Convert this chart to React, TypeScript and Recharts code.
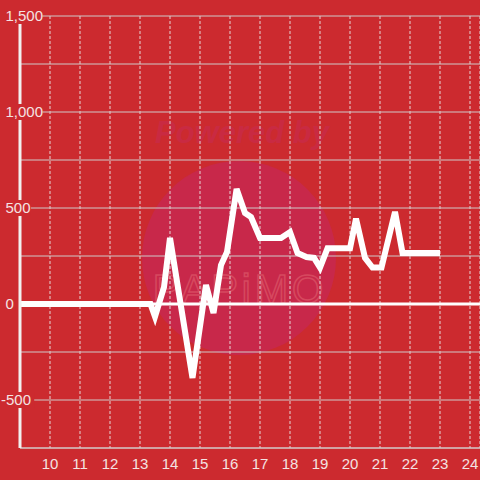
import React from 'react';
import {
  LineChart,
  Line,
  XAxis,
  YAxis,
  CartesianGrid,
  ReferenceLine,
} from 'recharts';

const hours = [
  9, 13.35, 13.5, 13.8, 14.0, 14.75, 15.2, 15.45, 15.7, 15.9, 16.22, 16.5,
  16.7, 17.0, 17.7, 18.0, 18.25, 18.55, 18.8, 19.0, 19.25, 20.0, 20.2, 20.5,
  20.75, 21.05, 21.5, 21.75, 23.0,
];
const values = [
  0, 0, -66, 88, 344, -385, 99, -47, 203, 271, 599, 474, 453, 344, 344, 375,
  265, 245, 240, 190, 290, 290, 445, 240, 190, 190, 480, 265, 265,
];
const xTicks = [10, 11, 12, 13, 14, 15, 16, 17, 18, 19, 20, 21, 22, 23, 24];
const yTicks = [-750, -500, -250, 0, 250, 500, 750, 1000, 1250, 1500];

const data = hours.map((h, i) => ({ hour: h, value: values[i] }));

const BG = '#cc2a2f';
const FONT = '"Liberation Sans", Arial, sans-serif';

const YTick = (props: any) => {
  const { y, payload } = props;
  const v = payload.value;
  if (v % 500 !== 0 || v === -750) return null;
  const label = v.toLocaleString('en-US');
  const neg = v < 0;
  const tx = neg ? 1 : 5.5;
  const w = label.length * 7.8 - (label.includes(',') ? 4 : 0);
  return (
    <g>
      <rect x={tx - 1} y={y - 8} width={w + 3} height={16} fill={BG} />
      <text
        x={tx}
        y={y}
        dy={5}
        textAnchor="start"
        fill="#f4e2e2"
        fontSize={15}
        fontFamily={FONT}
      >
        {label}
      </text>
    </g>
  );
};

const App = () => {
  return (
    <div
      style={{
        position: 'fixed',
        left: 0,
        top: 0,
        width: 480,
        height: 480,
        background: BG,
      }}
    >
      {/* watermark behind the chart */}
      <svg
        width={480}
        height={480}
        style={{ position: 'absolute', left: 0, top: 0 }}
      >
        <circle cx={239} cy={258} r={97} fill="#c8284a" />
        <text
          x={242}
          y={143}
          textAnchor="middle"
          fontSize={31}
          fontWeight="bold"
          fontStyle="italic"
          fontFamily={FONT}
          fill="#c92a42"
        >
          Powered by
        </text>
        <text
          x={240}
          y={303}
          textAnchor="middle"
          fontSize={40}
          fontFamily={FONT}
          letterSpacing={4}
          fill="none"
          stroke="#d6485f"
          strokeWidth={1.5}
        >
          PAPiMO
        </text>
      </svg>
      <div style={{ position: 'absolute', left: 0, top: 0 }}>
        <LineChart
          width={480}
          height={480}
          data={data}
          margin={{ top: 16, right: 0, bottom: 0, left: 0 }}
        >
          <CartesianGrid
            horizontal={false}
            stroke="#e4d6d6"
            strokeDasharray="3 2"
          />
          <CartesianGrid vertical={false} stroke="#cfc9c9" />
          <XAxis
            dataKey="hour"
            type="number"
            domain={[9, 24.333]}
            ticks={xTicks}
            allowDataOverflow
            height={32}
            axisLine={{ stroke: '#d4cccc', strokeWidth: 1 }}
            tickLine={false}
            tickMargin={4}
            tick={{ fill: '#f4e2e2', fontSize: 15, fontFamily: FONT }}
          />
          <YAxis
            type="number"
            domain={[-750, 1500]}
            ticks={yTicks}
            interval={0}
            width={20}
            axisLine={{ stroke: '#f2f0f0', strokeWidth: 3 }}
            tickLine={false}
            tick={<YTick />}
          />
          <ReferenceLine y={0} stroke="#ffffff" strokeWidth={3} />
          <Line
            type="linear"
            dataKey="value"
            stroke="#ffffff"
            strokeWidth={6}
            dot={false}
            isAnimationActive={false}
          />
        </LineChart>
      </div>
    </div>
  );
};

export default App;
